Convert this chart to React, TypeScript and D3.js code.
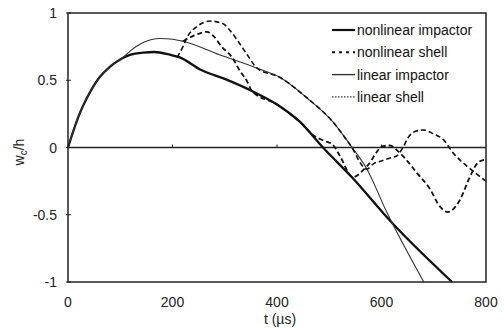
import React from "react";
import * as d3 from "d3";

// ---- data (t in µs, w_c/h) ----
const nlImpT = [0, 10, 20, 30, 42, 60, 80, 100, 105, 120, 144, 165, 195, 214, 253, 300, 352, 400, 444, 488, 543, 620, 735];
const nlImpW = [0, 0.12, 0.23, 0.32, 0.41, 0.52, 0.6, 0.655, 0.665, 0.69, 0.705, 0.71, 0.69, 0.67, 0.58, 0.51, 0.42, 0.32, 0.19, 0.0, -0.22, -0.56, -1.0];

const linImpT = [0, 10, 20, 30, 42, 60, 80, 100, 105, 120, 144, 176, 200, 220, 290, 362, 406, 457, 507, 540, 572, 610, 681];
const linImpW = [0, 0.12, 0.23, 0.32, 0.41, 0.52, 0.6, 0.655, 0.67, 0.72, 0.78, 0.81, 0.805, 0.79, 0.69, 0.59, 0.52, 0.37, 0.19, 0.02, -0.16, -0.48, -1.0];

const nlShellT = [209, 220, 228, 247, 272, 297, 310, 329, 343, 362, 406, 457, 507, 540, 572, 585, 600, 615, 630, 641, 652, 665, 680, 700, 718, 737, 764, 783, 800];
const nlShellW = [0.67, 0.75, 0.82, 0.9, 0.94, 0.92, 0.87, 0.77, 0.69, 0.59, 0.52, 0.37, 0.19, 0.02, -0.16, -0.12, -0.1, -0.08, -0.06, 0.0, 0.08, 0.12, 0.13, 0.1, 0.06, -0.04, -0.14, -0.2, -0.25];

const linShellT = [220, 240, 266, 278, 294, 314, 329, 343, 352, 400, 444, 470, 490, 507, 520, 545, 572, 603, 616, 635, 668, 693, 712, 727, 750, 769, 785, 798];
const linShellW = [0.79, 0.83, 0.86, 0.83, 0.75, 0.67, 0.57, 0.49, 0.42, 0.32, 0.19, 0.09, 0.05, 0.02, -0.06, -0.22, -0.14, 0.01, 0.015, -0.04, -0.19, -0.31, -0.44, -0.48, -0.39, -0.22, -0.11, -0.09];

const xTicks = [0, 200, 400, 600, 800];
const yTicks = [1, 0.5, 0, -0.5, -1];
const yTickLabels = ["1", "0.5", "0", "-0.5", "-1"];
const legendLabels = ["nonlinear impactor", "nonlinear shell", "linear impactor", "linear shell"];

const W = 504;
const H = 328;
const FONT = "'Liberation Sans', Arial, sans-serif";

export default function App() {
  const x = d3.scaleLinear().domain([0, 800]).range([68, 486]);
  const y = d3.scaleLinear().domain([-1, 1]).range([282, 13]);

  const line = d3
    .line<[number, number]>()
    .x((d) => x(d[0]))
    .y((d) => y(d[1]))
    .curve(d3.curveMonotoneX);

  const zip = (t: number[], w: number[]) => t.map((v, i) => [v, w[i]] as [number, number]);

  const series = [
    { d: zip(nlImpT, nlImpW), stroke: "#111", width: 2.3, dash: undefined as string | undefined },
    { d: zip(linImpT, linImpW), stroke: "#333", width: 1.1, dash: undefined },
    { d: zip(nlShellT, nlShellW), stroke: "#111", width: 1.6, dash: "5,3" },
    { d: zip(linShellT, linShellW), stroke: "#111", width: 1.8, dash: "5,3" },
  ];

  const legendStyles = [
    { width: 2.2, dash: undefined as string | undefined, stroke: "#111" },
    { width: 2, dash: "3,4", stroke: "#111" },
    { width: 1.4, dash: undefined, stroke: "#333" },
    { width: 1.2, dash: "1.5,1.5", stroke: "#333" },
  ];

  return (
    <svg
      width={W}
      height={H}
      style={{ position: "absolute", left: 0, top: 0, background: "#fff" }}
      fontFamily={FONT}
    >
      <rect x={0} y={0} width={W} height={H} fill="#fff" />
      {/* zero line */}
      <line x1={x(0)} x2={x(800)} y1={y(0)} y2={y(0)} stroke="#222" strokeWidth={1.3} />
      {/* ticks on zero line */}
      {xTicks.slice(1, -1).map((t) => (
        <line key={"zt" + t} x1={x(t)} x2={x(t)} y1={y(0)} y2={y(0) - 3} stroke="#222" strokeWidth={1} />
      ))}
      {/* y ticks */}
      {yTicks.map((v) => (
        <line key={"yt" + v} x1={x(0) - 2} x2={x(0) + 3} y1={y(v)} y2={y(v)} stroke="#222" strokeWidth={1} />
      ))}
      {/* series */}
      {series.map((s, i) => (
        <path
          key={i}
          d={line(s.d) || ""}
          fill="none"
          stroke={s.stroke}
          strokeWidth={s.width}
          strokeDasharray={s.dash}
          strokeLinejoin="round"
        />
      ))}
      {/* frame */}
      <rect
        x={x(0)}
        y={y(1)}
        width={x(800) - x(0)}
        height={y(-1) - y(1)}
        fill="none"
        stroke="#222"
        strokeWidth={1.5}
      />
      {/* tick labels */}
      {xTicks.map((t) => (
        <text key={"xl" + t} x={x(t)} y={307} fontSize={14} textAnchor="middle" fill="#222">
          {t}
        </text>
      ))}
      {yTicks.map((v, i) => (
        <text key={"yl" + v} x={57} y={y(v) + 5} fontSize={14} textAnchor="end" fill="#222">
          {yTickLabels[i]}
        </text>
      ))}
      {/* axis titles */}
      <text x={280} y={324} fontSize={14} textAnchor="middle" fill="#222">
        t (µs)
      </text>
      <text transform="translate(24,152) rotate(-90)" fontSize={14} textAnchor="middle" fill="#222">
        w<tspan fontSize={10} dy={3}>c</tspan>
        <tspan dy={-3}>/h</tspan>
      </text>
      {/* legend */}
      {legendLabels.map((lab, i) => {
        const cy = 30 + i * 22.3;
        const st = legendStyles[i];
        return (
          <g key={lab}>
            <line
              x1={332}
              x2={355}
              y1={cy}
              y2={cy}
              stroke={st.stroke}
              strokeWidth={st.width}
              strokeDasharray={st.dash}
            />
            <text x={357} y={cy + 5} fontSize={14} fill="#111">
              {lab}
            </text>
          </g>
        );
      })}
    </svg>
  );
}
